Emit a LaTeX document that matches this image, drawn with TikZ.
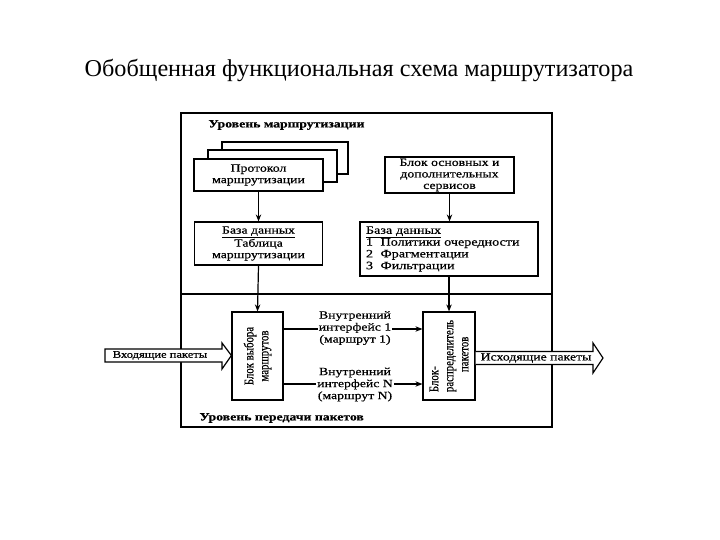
\documentclass[tikz,border=0pt]{standalone}
\usepackage{fontspec}
\setmainfont{Liberation Serif}
\newfontfamily\widefont[FakeStretch=1.25,FakeBold=0.6]{Liberation Serif}
\newfontfamily\narrowfont[FakeStretch=0.8,FakeBold=0.5]{Liberation Serif}
\usetikzlibrary{arrows.meta}
\begin{document}
\begin{tikzpicture}[x=1pt,y=-1pt,line width=1.2pt,
  box/.style={draw,fill=white,inner sep=0pt,align=center,font=\widefont\fontsize{11}{11.5}\selectfont},
  txt/.style={inner sep=1pt,align=center,font=\widefont\fontsize{11}{12}\selectfont},
  rot/.style={inner sep=0pt,rotate=90,font=\narrowfont\fontsize{13.5}{15}\selectfont},
  lbl/.style={anchor=west,inner sep=0pt,font=\widefont\bfseries\fontsize{11}{12}\selectfont},
  arr/.style={-{Stealth[length=7pt,width=5.5pt]}}]
\useasboundingbox[fill=white] (0,0) rectangle (720,540);
\node[font=\fontsize{24.2}{27}\selectfont] (title) at (359,70) {Обобщенная функциональная схема маршрутизатора};
% frame
\node[draw,minimum width=371pt,minimum height=314pt,inner sep=0pt] (frame) at (366.5,270) {};
\draw (frame.west |- 0,294) -- (frame.east |- 0,294);
\node[lbl] (lvl1) at (208,125) {Уровень маршрутизации};
\node[lbl] (lvl2) at (199,418) {Уровень передачи пакетов};
% protocol stack
\node[box,minimum width=126pt,minimum height=32pt] (pback) at (285,158) {};
\node[box,minimum width=129pt,minimum height=32pt] (pmid) at (272.5,166) {};
\node[box,minimum width=129pt,minimum height=32pt] (prot) at (258.5,175) {Протокол\\маршрутизации};
% services
\node[box,minimum width=129pt,minimum height=36pt] (serv) at (449.5,175) {Блок основных и\\дополнительных\\сервисов};
% databases
\node[box,minimum width=128pt,minimum height=43pt] (ldb) at (258.5,243.5) {\underline{База данных}\\Таблица\\маршрутизации};
\node[box,minimum height=54pt,text width=166pt,inner xsep=6pt,align=left,font=\widefont\fontsize{11.3}{11.8}\selectfont] (rdb) at (449,249) {\underline{База данных}\\1\ \ Политики очередности\\2\ \ Фрагментации\\3\ \ Фильтрации};
% transfer blocks
\node[draw,minimum width=51pt,minimum height=88pt,inner sep=0pt] (sel) at (257.5,356) {};
\node[rot,align=center] (selt) at (sel.center) {Блок выбора\\маршрутов};
\node[draw,minimum width=52pt,minimum height=88pt,inner sep=0pt] (dist) at (449,356) {};
\node[rot,align=left] (distt) at (dist.center) {Блок-\\распределитель\\\hspace*{20pt}пакетов};
% arrows
\draw[arr] (prot.south) -- (ldb.north);
\draw[arr] (ldb.south) -- (sel.north);
\draw[arr] (serv.south) -- (serv.south |- rdb.north);
\draw[arr] (rdb.south -| dist.north) -- (dist.north);
\draw[arr] (sel.east |- 0,329) -- (dist.west |- 0,329);
\draw[arr] (sel.east |- 0,384) -- (dist.west |- 0,384);
\node[txt,fill=white] (if1) at (355,328) {Внутренний\\интерфейс 1\\(маршрут 1)};
\node[txt,fill=white] (if2) at (355,384.5) {Внутренний\\интерфейс N\\(маршрут N)};
% hollow arrows
\draw[fill=white] (105,349) -- (222,349) -- (222,343) -- (sel.west |- 0,355.5) -- (222,369) -- (222,362) -- (105,362) -- cycle;
\node[txt,font=\widefont\fontsize{10}{11}\selectfont] (inc) at (160,355.5) {Входящие пакеты};
\draw[fill=white] (dist.east |- 0,351.5) -- (593,351.5) -- (593,343) -- (603,358) -- (593,373) -- (593,364.5) -- (dist.east |- 0,364.5);
\node[txt] (out) at (536,358) {Исходящие пакеты};
\end{tikzpicture}
\end{document}
